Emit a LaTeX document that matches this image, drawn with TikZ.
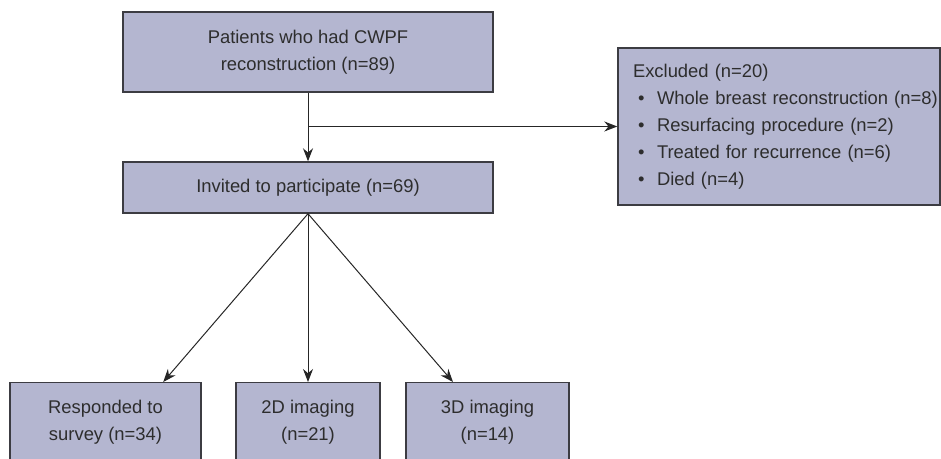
\documentclass[tikz,border=0pt]{standalone}
\usepackage{fontspec}
\setmainfont{Liberation Sans}
\usetikzlibrary{arrows.meta,calc}
\definecolor{boxfill}{RGB}{180,182,208}
\definecolor{boxline}{RGB}{60,60,66}
\definecolor{txt}{RGB}{45,45,45}

\begin{document}
\begin{tikzpicture}[x=0.5pt,y=-0.5pt,
  flowbox/.style={draw=boxline,fill=boxfill,line width=0.7pt,align=center,
    text=txt,font=\fontsize{9.2}{13.5}\selectfont,inner sep=0pt},
  arr/.style={-{Stealth[length=6.5pt,width=5pt]},line width=0.5pt,draw=black!85}]
  \useasboundingbox (0,0) rectangle (941,459);
  \clip (0,0) rectangle (941,459);

  \node[flowbox,minimum width=185pt,minimum height=40pt] (cwpf) at (308,52)
    {Patients who had CWPF\\reconstruction (n=89)};
  \node[flowbox,minimum width=185pt,minimum height=25.5pt] (invited) at (308,187.5)
    {Invited to participate (n=69)};
  \node[flowbox,align=left,text width=146pt,inner xsep=7.5pt,minimum height=78.5pt] (excl) at (779,126.5)
    {Excluded (n=20)\\
     \mbox{\hspace*{2.5pt}\makebox[9.5pt][l]{\textbullet}Whole breast reconstruction (n=8)}\\
     \hspace*{2.5pt}\makebox[9.5pt][l]{\textbullet}Resurfacing procedure (n=2)\\
     \hspace*{2.5pt}\makebox[9.5pt][l]{\textbullet}Treated for recurrence (n=6)\\
     \hspace*{2.5pt}\makebox[9.5pt][l]{\textbullet}Died (n=4)};

  \node[flowbox,minimum width=95.5pt,minimum height=40pt,anchor=north] (survey) at (105.5,382)
    {Responded to\\survey (n=34)};
  \node[flowbox,minimum width=72pt,minimum height=40pt,anchor=north] (twod) at (308,382)
    {2D imaging\\(n=21)};
  \node[flowbox,minimum width=81.5pt,minimum height=40pt,anchor=north] (threed) at (487.5,382)
    {3D imaging\\(n=14)};

  \draw[arr] (cwpf.south) -- (invited.north);
  \draw[arr] (cwpf.south |- excl.west) -- (excl.west);
  \draw[arr] (invited.south) -- ($(survey.north)!0.6!(survey.north east)$);
  \draw[arr] (invited.south) -- (twod.north);
  \draw[arr] (invited.south) -- ($(threed.north)!0.42!(threed.north west)$);
\end{tikzpicture}
\end{document}
